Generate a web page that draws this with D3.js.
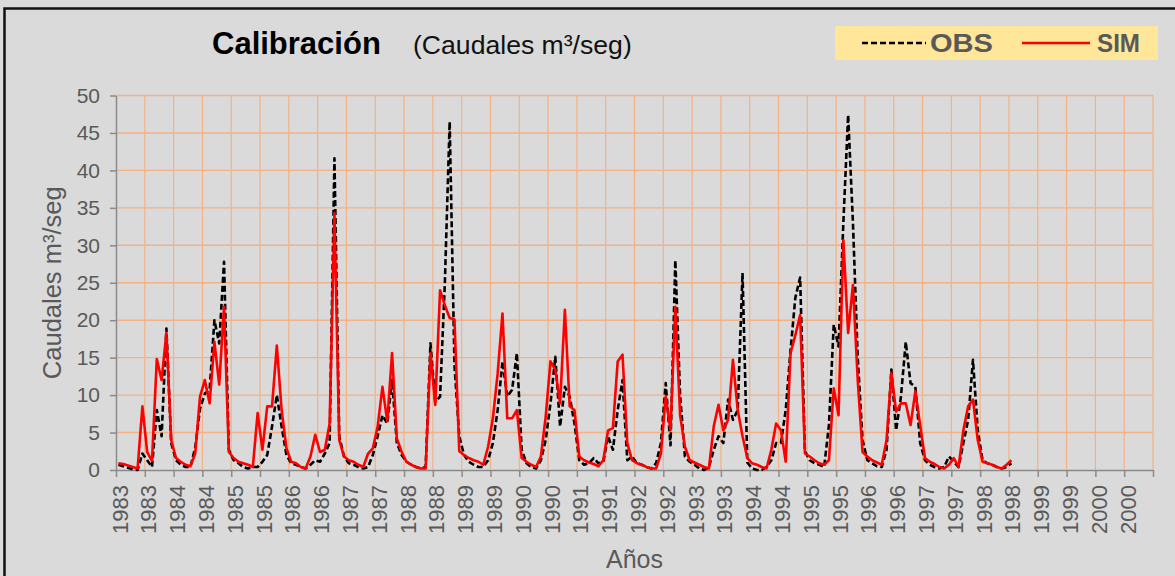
<!DOCTYPE html>
<html>
<head>
<meta charset="utf-8">
<script src="https://cdn.jsdelivr.net/npm/d3@7"></script>
<style>
  html, body { margin: 0; padding: 0; background: #d9d9d9; }
  svg { display: block; font-family: "Liberation Sans", Arial, sans-serif; }
</style>
</head>
<body>
<svg id="chart" width="1175" height="576"></svg>
<script>
// Monthly discharge, m³/s — observed series (first value = first month of 1983)
const obs = [
  0.7,0.5,0.3,0.1,0.0,2.2,1.3,0.4,8.0,4.5,18.9,3.6,
  1.3,0.7,0.4,0.4,3.0,8.2,10.2,10.7,20.0,16.9,27.8,2.7,
  1.3,0.9,0.4,0.2,0.4,0.4,1.1,2.0,5.8,10.0,5.8,2.0,
  0.9,0.7,0.4,0.2,0.7,1.3,1.1,2.2,3.6,41.6,4.5,1.8,
  0.9,0.7,0.4,0.2,0.4,2.0,4.5,7.3,6.2,12.0,3.6,2.0,
  1.1,0.7,0.4,0.2,0.4,16.9,9.1,9.8,25.0,46.5,14.0,4.5,
  2.0,1.1,0.7,0.4,0.4,1.3,3.6,8.0,14.5,9.8,10.7,15.6,
  2.7,0.9,0.4,0.2,1.3,4.0,8.9,15.1,5.8,11.1,9.8,6.2,
  1.3,0.7,0.9,1.6,0.9,1.1,4.5,2.7,8.0,12.0,1.3,1.8,
  0.9,0.7,0.4,0.2,0.9,3.6,11.6,3.3,28.0,10.0,1.8,1.1,
  0.7,0.2,0.0,0.4,2.7,4.5,3.6,9.4,6.7,8.0,26.3,1.0,
  0.2,0.0,0.0,0.4,1.3,3.6,3.6,8.0,16.0,23.0,25.7,2.5,
  1.3,0.9,0.7,0.4,6.0,19.4,16.5,33.0,47.4,33.0,15.0,4.0,
  1.3,0.9,0.5,0.4,2.7,13.4,5.3,9.8,17.1,11.6,11.1,3.6,
  1.3,0.7,0.4,0.2,0.4,1.8,1.1,0.4,3.6,6.7,14.7,5.3,
  1.3,0.9,0.7,0.4,0.2,0.4,0.9
];

// Monthly discharge, m³/s — simulated series
const sim = [
  0.9,0.8,0.6,0.4,0.2,8.5,2.4,1.2,14.8,12.0,18.3,4.0,
  1.6,1.1,0.7,0.5,2.2,9.8,12.0,8.9,17.1,11.4,21.8,2.4,
  1.6,1.1,0.9,0.7,0.4,7.6,2.7,8.5,8.5,16.6,8.0,2.9,
  1.1,0.9,0.4,0.2,1.8,4.7,2.4,2.7,6.2,34.3,4.0,1.8,
  1.3,1.1,0.7,0.4,2.2,2.9,5.8,11.1,6.5,15.6,4.2,2.4,
  1.1,0.7,0.4,0.2,0.2,15.6,8.7,24.0,22.0,20.3,20.1,2.5,
  2.0,1.6,1.3,1.1,0.7,3.1,6.9,12.9,20.9,6.9,6.9,8.0,
  1.6,1.1,0.7,0.4,1.8,7.1,14.5,13.4,8.9,21.4,8.5,8.0,
  1.8,1.3,1.0,0.8,0.5,1.3,5.3,5.6,14.5,15.4,3.6,1.3,
  0.9,0.7,0.4,0.2,0.2,2.2,9.8,5.3,21.8,7.3,3.1,1.3,
  1.0,0.7,0.4,0.2,5.8,8.7,5.3,6.7,14.7,8.0,4.5,1.6,
  0.9,0.7,0.4,0.2,2.7,6.2,5.3,1.1,15.6,18.0,20.7,2.2,
  1.8,1.3,0.9,0.7,1.3,10.9,7.3,30.7,18.3,24.7,12.0,2.4,
  1.8,1.3,1.0,0.7,4.0,12.9,7.8,8.9,8.9,6.0,10.5,6.0,
  1.6,1.1,0.8,0.4,0.2,0.7,1.6,0.4,5.3,8.5,9.4,4.0,
  1.1,0.9,0.7,0.4,0.2,0.7,1.3
];

// Half-year tick labels along the time axis
const xTickLabels = [
  "1983","1983","1984","1984","1985","1985","1986","1986","1987","1987",
  "1988","1988","1989","1989","1990","1990","1991","1991","1992","1992",
  "1993","1993","1994","1994","1995","1995","1996","1996","1997","1997",
  "1998","1998","1999","1999","2000","2000"
];
const yTickValues = [0,5,10,15,20,25,30,35,40,45,50];

const seriesNames = ["OBS", "SIM"];

const svg = d3.select("#chart");
const W = 1175, H = 576;
const plot = { left: 116, right: 1153, top: 95.5, bottom: 470 };
const monthsSpan = xTickLabels.length * 6; // axis runs to the end of 2000

const x = d3.scaleLinear().domain([0, monthsSpan]).range([plot.left, plot.right]);
const y = d3.scaleLinear().domain([0, 50]).range([plot.bottom, plot.top]);
const xTicks = d3.range(0, monthsSpan + 1, 6);

// background
svg.append("rect").attr("width", W).attr("height", H).attr("fill", "#dadada");

// outer frame (left and top edges)
svg.append("path")
  .attr("d", `M4.5,${H} L4.5,8.5 L${W},8.5`)
  .attr("fill", "none").attr("stroke", "#111").attr("stroke-width", 2.5);

// grid
const grid = svg.append("g").attr("stroke", "#f4b183").attr("stroke-width", 1.4);
grid.selectAll("line.h").data(yTickValues.filter(v => v > 0)).join("line")
  .attr("x1", plot.left).attr("x2", plot.right)
  .attr("y1", d => y(d)).attr("y2", d => y(d));
grid.selectAll("line.v").data(xTicks.filter(v => v > 0)).join("line")
  .attr("x1", d => x(d)).attr("x2", d => x(d))
  .attr("y1", plot.top).attr("y2", plot.bottom)
  .attr("stroke-width", 1.2);

// axes
const axisColor = "#8a8a8a", labelColor = "#595959";

const yAxis = svg.append("g")
  .attr("transform", `translate(${plot.left},0)`)
  .call(d3.axisLeft(y).tickValues(yTickValues).tickSize(6).tickPadding(10).tickSizeOuter(0));
yAxis.selectAll("text").attr("font-size", 21).attr("fill", labelColor)
  .attr("font-family", "Liberation Sans, Arial, sans-serif");

const xAxis = svg.append("g")
  .attr("transform", `translate(0,${plot.bottom})`)
  .call(d3.axisBottom(x).tickValues(xTicks)
    .tickFormat((d, i) => xTickLabels[i] || "").tickSize(7).tickSizeOuter(0));
xAxis.selectAll("text")
  .attr("font-size", 22).attr("fill", labelColor)
  .attr("font-family", "Liberation Sans, Arial, sans-serif")
  .attr("y", 0).attr("x", -15).attr("dy", "0.5em")
  .attr("transform", "rotate(-90)")
  .style("text-anchor", "end");

[yAxis, xAxis].forEach(g => {
  g.select(".domain").attr("stroke", axisColor).attr("stroke-width", 1.5);
  g.selectAll(".tick line").attr("stroke", axisColor).attr("stroke-width", 1.5);
});

// series lines
const line = d3.line().x((d, i) => x(i + 0.5)).y(d => y(d));

svg.append("path").datum(obs)
  .attr("d", line).attr("fill", "none")
  .attr("stroke", "#000").attr("stroke-width", 2.6)
  .attr("stroke-dasharray", "6,3").attr("stroke-linejoin", "round");

svg.append("path").datum(sim)
  .attr("d", line).attr("fill", "none")
  .attr("stroke", "#ff0000").attr("stroke-width", 2.6)
  .attr("stroke-linejoin", "round");

// titles
svg.append("text").attr("x", 212).attr("y", 54).attr("fill", "#000")
  .attr("font-size", 31).attr("font-weight", "bold").text("Calibración");
svg.append("text").attr("x", 413).attr("y", 54).attr("font-size", 26.6).attr("fill", "#111")
  .text("(Caudales m³/seg)");

svg.append("text")
  .attr("transform", `translate(52,${(plot.top + plot.bottom) / 2}) rotate(-90)`)
  .attr("text-anchor", "middle").attr("dy", "0.35em")
  .attr("font-size", 25.5).attr("fill", labelColor)
  .text("Caudales m³/seg");

svg.append("text")
  .attr("x", (plot.left + plot.right) / 2).attr("y", 568)
  .attr("text-anchor", "middle")
  .attr("font-size", 25).attr("fill", labelColor)
  .text("Años");

// legend
const legend = svg.append("g");
legend.append("rect").attr("x", 835).attr("y", 26).attr("width", 323).attr("height", 34)
  .attr("fill", "#ffe699");
legend.append("line").attr("x1", 862).attr("x2", 926).attr("y1", 43).attr("y2", 43)
  .attr("stroke", "#000").attr("stroke-width", 2.6).attr("stroke-dasharray", "6,3");
legend.append("text").attr("x", 930).attr("y", 52).attr("font-size", 26)
  .attr("font-weight", "bold").attr("fill", labelColor)
  .attr("textLength", 63).attr("lengthAdjust", "spacingAndGlyphs").text(seriesNames[0]);
legend.append("line").attr("x1", 1022).attr("x2", 1090).attr("y1", 43).attr("y2", 43)
  .attr("stroke", "#ff0000").attr("stroke-width", 2.6);
legend.append("text").attr("x", 1097).attr("y", 52).attr("font-size", 26)
  .attr("font-weight", "bold").attr("fill", labelColor)
  .attr("textLength", 43).attr("lengthAdjust", "spacingAndGlyphs").text(seriesNames[1]);
</script>
</body>
</html>
